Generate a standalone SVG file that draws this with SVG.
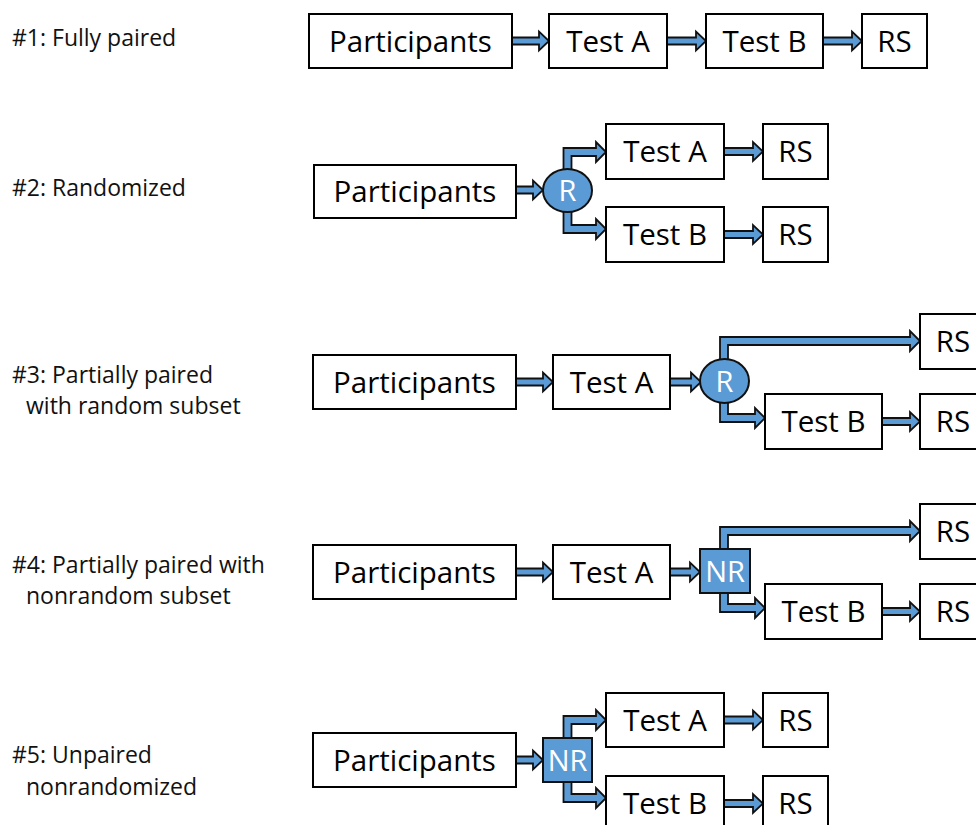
<svg xmlns="http://www.w3.org/2000/svg" width="976" height="825" viewBox="0 0 976 825">
<style>
.box{fill:#fff;stroke:#000;stroke-width:2}
.t{font-family:"Open Sans","Liberation Sans",sans-serif;font-size:29.5px;fill:#000;text-anchor:middle}
.lab{font-family:"Open Sans","Liberation Sans",sans-serif;font-size:23px;fill:#111}
.arr{fill:#5b9bd5;stroke:#111;stroke-width:1.8;stroke-linejoin:miter}
.blue{fill:#5b9bd5;stroke:#111;stroke-width:2}
.w{font-family:"Open Sans","Liberation Sans",sans-serif;font-size:29px;fill:#fff;text-anchor:middle}
</style>
<rect width="976" height="825" fill="#fff"/>
<g id="labels">
<text class="lab" x="12" y="46">#1: Fully paired</text>
<text class="lab" x="12" y="196">#2: Randomized</text>
<text class="lab" x="12" y="383">#3: Partially paired</text>
<text class="lab" x="26" y="414">with random subset</text>
<text class="lab" x="12" y="573">#4: Partially paired with</text>
<text class="lab" x="26" y="604">nonrandom subset</text>
<text class="lab" x="12" y="763">#5: Unpaired</text>
<text class="lab" x="26" y="795">nonrandomized</text>
</g>
<g id="connectors">
<polygon class="arr" points="512,37.5 539,37.5 539,31.5 549,41 539,50.5 539,44.5 512,44.5"/>
<polygon class="arr" points="667,37.5 696,37.5 696,31.5 706,41 696,50.5 696,44.5 667,44.5"/>
<polygon class="arr" points="823,37.5 852,37.5 852,31.5 862,41 852,50.5 852,44.5 823,44.5"/>
<polygon class="arr" points="516,186.5 533,186.5 533,180.5 543,190 533,199.5 533,193.5 516,193.5"/>
<polygon class="arr" points="563.5,190 563.5,148 596,148 596,142 606,152 596,162 596,156 571.5,156 571.5,190"/>
<polygon class="arr" points="563.5,190 563.5,233 596,233 596,239 606,229 596,219 596,225 571.5,225 571.5,190"/>
<polygon class="arr" points="724,148 753,148 753,142 763,151.5 753,161 753,155 724,155"/>
<polygon class="arr" points="724,231 753,231 753,225 763,234.5 753,244 753,238 724,238"/>
<polygon class="arr" points="516,378.5 543,378.5 543,372.5 553,382 543,391.5 543,385.5 516,385.5"/>
<polygon class="arr" points="670,378.5 691,378.5 691,372.5 701,382 691,391.5 691,385.5 670,385.5"/>
<polygon class="arr" points="720,381 720,337 910,337 910,331 920,341 910,351 910,345 728,345 728,381"/>
<polygon class="arr" points="720,381 720,422 755,422 755,428 765,418 755,408 755,414 728,414 728,381"/>
<polygon class="arr" points="882,418 910,418 910,412 920,421.5 910,431 910,425 882,425"/>
<polygon class="arr" points="516,568.5 543,568.5 543,562.5 553,572 543,581.5 543,575.5 516,575.5"/>
<polygon class="arr" points="670,568.5 690,568.5 690,562.5 700,572 690,581.5 690,575.5 670,575.5"/>
<polygon class="arr" points="720,571 720,527 910,527 910,521 920,531 910,541 910,535 728,535 728,571"/>
<polygon class="arr" points="720,571 720,612 755,612 755,618 765,608 755,598 755,604 728,604 728,571"/>
<polygon class="arr" points="882,608 910,608 910,602 920,611.5 910,621 910,615 882,615"/>
<polygon class="arr" points="516,756.5 533,756.5 533,750.5 543,760 533,769.5 533,763.5 516,763.5"/>
<polygon class="arr" points="563.5,760 563.5,716 596,716 596,710 606,720 596,730 596,724 571.5,724 571.5,760"/>
<polygon class="arr" points="563.5,760 563.5,802 596,802 596,808 606,798 596,788 596,794 571.5,794 571.5,760"/>
<polygon class="arr" points="724,716.5 753,716.5 753,710.5 763,720 753,729.5 753,723.5 724,723.5"/>
<polygon class="arr" points="724,800 753,800 753,794 763,803.5 753,813 753,807 724,807"/>
</g>
<g id="row1">
<g id="r1-participants"><rect class="box" x="309" y="14" width="203" height="54"/><text class="t" x="410.5" y="51.5">Participants</text></g>
<g id="r1-testA"><rect class="box" x="549" y="14" width="118" height="54"/><text class="t" x="608" y="51.5">Test A</text></g>
<g id="r1-testB"><rect class="box" x="706" y="14" width="117" height="54"/><text class="t" x="764.5" y="51.5">Test B</text></g>
<g id="r1-rs"><rect class="box" x="862" y="14" width="65" height="54"/><text class="t" x="894.5" y="51.5">RS</text></g>
</g>
<g id="row2">
<g id="r2-participants"><rect class="box" x="314" y="165" width="202" height="53"/><text class="t" x="415" y="202">Participants</text></g>
<g id="r2-R"><ellipse class="blue" cx="567.5" cy="190.5" rx="24.5" ry="21.5"/><text class="w" x="567.5" y="201">R</text></g>
<g id="r2-testA"><rect class="box" x="606" y="124" width="118" height="55"/><text class="t" x="665" y="162">Test A</text></g>
<g id="r2-rsA"><rect class="box" x="763" y="124" width="65" height="55"/><text class="t" x="795.5" y="162">RS</text></g>
<g id="r2-testB"><rect class="box" x="606" y="207" width="118" height="55"/><text class="t" x="665" y="245">Test B</text></g>
<g id="r2-rsB"><rect class="box" x="763" y="207" width="65" height="55"/><text class="t" x="795.5" y="245">RS</text></g>
</g>
<g id="row3">
<g id="r3-participants"><rect class="box" x="313" y="355" width="203" height="54"/><text class="t" x="414.5" y="392.5">Participants</text></g>
<g id="r3-testA"><rect class="box" x="553" y="355" width="117" height="54"/><text class="t" x="611.5" y="392.5">Test A</text></g>
<g id="r3-R"><ellipse class="blue" cx="724.5" cy="381" rx="24.5" ry="22"/><text class="w" x="724.5" y="391.5">R</text></g>
<g id="r3-rs1"><rect class="box" x="920" y="314" width="66" height="55"/><text class="t" x="953" y="352">RS</text></g>
<g id="r3-testB"><rect class="box" x="765" y="394" width="117" height="55"/><text class="t" x="823.5" y="432">Test B</text></g>
<g id="r3-rs2"><rect class="box" x="920" y="394" width="66" height="55"/><text class="t" x="953" y="432">RS</text></g>
</g>
<g id="row4">
<g id="r4-participants"><rect class="box" x="313" y="545" width="203" height="54"/><text class="t" x="414.5" y="582.5">Participants</text></g>
<g id="r4-testA"><rect class="box" x="553" y="545" width="117" height="54"/><text class="t" x="611.5" y="582.5">Test A</text></g>
<g id="r4-NR"><rect class="blue" x="700" y="549" width="50" height="44"/><text class="w" x="725" y="581.5">NR</text></g>
<g id="r4-rs1"><rect class="box" x="920" y="504" width="66" height="55"/><text class="t" x="953" y="542">RS</text></g>
<g id="r4-testB"><rect class="box" x="765" y="584" width="117" height="55"/><text class="t" x="823.5" y="622">Test B</text></g>
<g id="r4-rs2"><rect class="box" x="920" y="584" width="66" height="55"/><text class="t" x="953" y="622">RS</text></g>
</g>
<g id="row5">
<g id="r5-participants"><rect class="box" x="313" y="733" width="203" height="54"/><text class="t" x="414.5" y="770.5">Participants</text></g>
<g id="r5-NR"><rect class="blue" x="543" y="738" width="49" height="44"/><text class="w" x="567.5" y="770.5">NR</text></g>
<g id="r5-testA"><rect class="box" x="606" y="693" width="118" height="54"/><text class="t" x="665" y="730.5">Test A</text></g>
<g id="r5-rsA"><rect class="box" x="763" y="693" width="65" height="54"/><text class="t" x="795.5" y="730.5">RS</text></g>
<g id="r5-testB"><rect class="box" x="606" y="776" width="118" height="55"/><text class="t" x="665" y="814">Test B</text></g>
<g id="r5-rsB"><rect class="box" x="763" y="776" width="65" height="55"/><text class="t" x="795.5" y="814">RS</text></g>
</g>
</svg>
